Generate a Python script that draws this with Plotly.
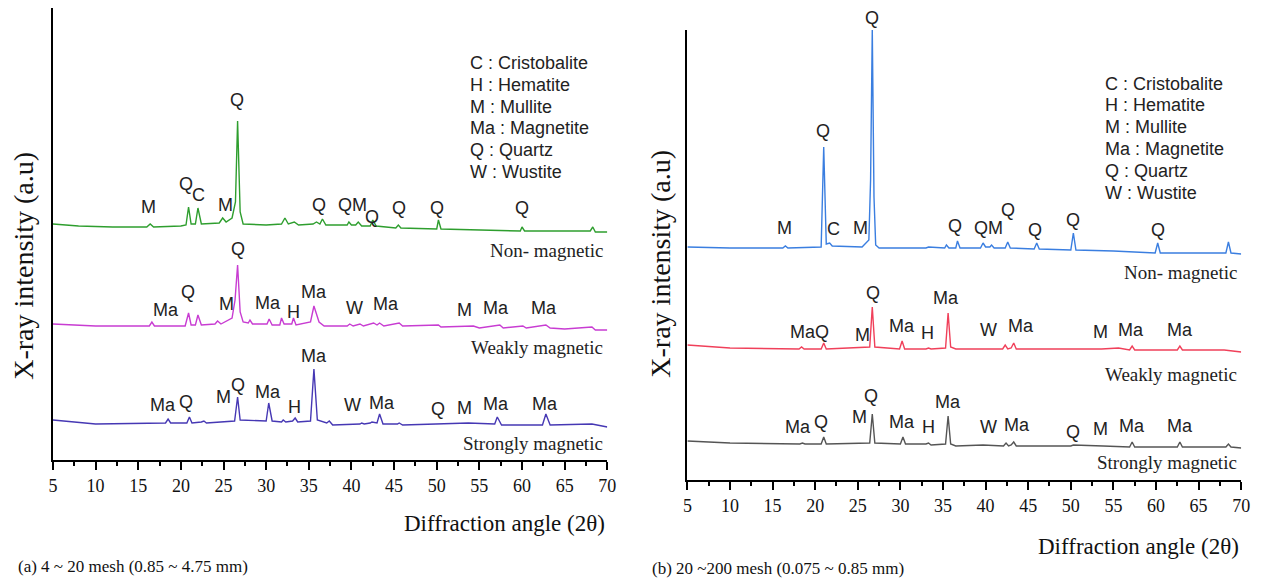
import plotly.graph_objects as go

W, H = 1269, 578

# ---------------- Panel (a) data: 2theta and intensity (a.u.) ----------------
a_non_x = [5, 8, 12, 16, 16.4, 16.8, 20, 20.6, 20.9, 21.2, 21.7, 22.0, 22.4, 24.5, 24.9, 25.3, 26.0, 26.4,
           26.65, 26.95, 27.3, 30, 31.8, 32.2, 32.6, 33.3, 33.8, 35.5, 35.9, 36.3, 36.6, 37.0, 39.5, 39.7,
           40.0, 40.5, 40.8, 41.2, 42.2, 42.5, 42.9, 45.2, 45.5, 45.8, 50.0, 50.2, 50.5, 55, 59.8, 60.0,
           60.3, 65, 68.0, 68.3, 68.6, 70]
a_non_y = [236, 234, 233, 233, 236, 233, 234, 235, 253, 236, 236, 252, 236, 237, 242, 238, 242, 258,
           339, 248, 236, 235, 236, 242, 236, 238, 235, 236, 238, 236, 241, 235, 235, 238,
           235, 235, 238, 234, 234, 240, 234, 232, 235, 232, 231, 240, 231, 230, 229, 233,
           229, 229, 229, 233, 228, 228]

a_weak_x = [5, 10, 16.3, 16.6, 16.9, 20.5, 20.9, 21.2, 21.7, 22.0, 22.4, 24.0, 24.3, 24.7, 26.0, 26.35,
            26.65, 26.95, 27.3, 27.9, 28.1, 28.4, 30.1, 30.35, 30.7, 31.6, 31.8, 32.1, 33.0, 33.2, 33.5,
            35.2, 35.6, 36.2, 36.8, 39.5, 39.8, 40.2, 41.0, 41.4, 42.6, 43.0, 43.3, 43.8, 45.6, 46.0,
            50.2, 50.5, 54.3, 55, 57.4, 57.8, 60.1, 60.5, 62.8, 63.3, 65, 68.2, 68.6, 70]
a_weak_y = [136, 134, 134, 138, 134, 134, 147, 135, 135, 145, 135, 136, 139, 136, 142, 160,
            195, 148, 138, 137, 140, 136, 136, 141, 135, 135, 142, 136, 136, 142, 135,
            138, 154, 138, 134, 134, 136, 134, 136, 134, 137, 135, 137, 134, 137, 134,
            135, 133, 134, 132, 135, 132, 134, 132, 135, 132, 131, 133, 130, 130]

a_strong_x = [5, 10, 18.2, 18.5, 18.8, 20.7, 21.0, 21.3, 22.4, 22.7, 23.0, 26.3, 26.65, 26.95, 30.0, 30.3,
              30.7, 31.8, 32.0, 32.3, 33.1, 33.4, 33.7, 35.2, 35.6, 36.0, 37.1, 37.4, 37.8, 41.0, 41.2,
              41.5, 42.2, 42.4, 43.0, 43.3, 43.7, 45.4, 45.6, 46, 49.9, 53.7, 56.8, 57.1, 57.6, 62.4,
              62.8, 63.3, 68.2, 70]
a_strong_y = [40, 36, 37, 41, 37, 37, 43, 37, 38, 39, 37, 39, 63, 40, 39, 57,
              39, 38, 40, 38, 39, 42, 38, 39, 91, 40, 37, 39, 35, 36, 37,
              36, 37, 38, 37, 46, 36, 36, 37, 35, 36, 37, 36, 43, 35, 35,
              46, 35, 36, 33]

# ---------------- Panel (b) data ----------------
b_non_x = [5, 10, 16.2, 16.5, 16.8, 20.7, 21.0, 21.3, 21.7, 22.0, 25.5, 26.3, 26.5, 26.7, 26.9, 27.1, 27.5,
           33.0, 33.3, 35.2, 35.4, 35.7, 36.5, 36.7, 37.0, 39.4, 39.7, 40.0, 40.5, 40.7, 41.0, 42.3,
           42.6, 42.9, 45.7, 46.0, 46.3, 50.0, 50.3, 50.6, 55, 59.9, 60.2, 60.5, 65, 68.2, 68.5, 68.8, 70]
b_non_y = [233, 232, 232, 234, 232, 233, 333, 236, 237, 234, 233, 240, 300, 451, 283, 235, 232,
           232, 233, 232, 235, 232, 232, 239, 232, 232, 237, 233, 233, 235, 232, 232,
           238, 232, 231, 237, 231, 230, 247, 230, 229, 227, 237, 227, 227, 227, 238, 227, 226]

b_weak_x = [5, 10, 18.1, 18.4, 18.7, 20.7, 21.0, 21.3, 26.4, 26.7, 27.0, 29.9, 30.2, 30.5, 33.0, 33.3, 33.6,
            35.3, 35.6, 35.9, 36.5, 42.0, 42.3, 42.6, 43.0, 43.3, 43.6, 53.6, 55.6, 56.9, 57.2, 57.5,
            62.5, 62.8, 63.1, 68.0, 70]
b_weak_y = [135, 132, 131, 133, 131, 131, 137, 131, 133, 173, 133, 131, 139, 131, 131, 132, 131,
            132, 167, 133, 131, 131, 135, 131, 132, 137, 131, 131, 132, 130, 134, 130,
            130, 134, 130, 130, 128]

b_strong_x = [5, 10, 18.2, 18.5, 18.8, 20.7, 21.0, 21.3, 26.4, 26.7, 27.0, 30.0, 30.3, 30.6, 33.0, 33.3,
              33.6, 35.3, 35.6, 35.9, 36.5, 39.7, 42.1, 42.4, 42.7, 43.0, 43.3, 43.6, 50.0, 50.3, 53.8,
              56.9, 57.2, 57.5, 62.5, 62.8, 63.1, 68.2, 68.5, 68.8, 70]
b_strong_y = [39, 37, 36, 37, 36, 36, 43, 36, 37, 66, 37, 36, 43, 36, 36, 37,
              35, 36, 64, 36, 34, 35, 34, 37, 34, 35, 38, 34, 34, 35, 34,
              33, 38, 33, 33, 38, 33, 33, 36, 33, 32]

# ---------------- Peak labels ----------------
a_non_lab = ["M", "Q", "C", "M", "Q", "Q", "QM", "Q", "Q", "Q", "Q"]
a_non_lx = [16.2, 20.6, 22.1, 25.2, 26.6, 36.2, 40.1, 42.4, 45.6, 50.0, 60.0]
a_non_ly = [253, 276, 265, 255, 360, 255, 255, 243, 252, 252, 252]

a_weak_lab = ["Ma", "Q", "M", "Q", "Ma", "H", "Ma", "W", "Ma", "M", "Ma", "Ma"]
a_weak_lx = [18.3, 20.8, 25.3, 26.7, 30.2, 33.2, 35.6, 40.3, 44.0, 53.2, 56.9, 62.6]
a_weak_ly = [150, 168, 156, 211, 157, 148, 168, 152, 156, 150, 152, 152]

a_strong_lab = ["Ma", "Q", "M", "Q", "Ma", "H", "Ma", "W", "Ma", "Q", "M", "Ma", "Ma"]
a_strong_lx = [17.9, 20.6, 25.0, 26.7, 30.2, 33.3, 35.6, 40.1, 43.6, 50.1, 53.3, 57.0, 62.7]
a_strong_ly = [55, 58, 63, 75, 68, 53, 104, 55, 57, 51, 52, 56, 56]

b_non_lab = ["M", "Q", "C", "M", "Q", "Q", "QM", "Q", "Q", "Q", "Q"]
b_non_lx = [16.4, 20.9, 22.1, 25.3, 26.7, 36.4, 40.3, 42.6, 45.8, 50.2, 60.2]
b_non_ly = [252, 349, 251, 252, 462, 254, 252, 270, 250, 260, 250]

b_weak_lab = ["MaQ", "M", "Q", "Ma", "H", "Ma", "W", "Ma", "M", "Ma", "Ma"]
b_weak_lx = [19.3, 25.5, 26.8, 30.2, 33.2, 35.4, 40.3, 44.1, 53.5, 57.1, 62.8]
b_weak_ly = [148, 145, 187, 154, 147, 182, 150, 154, 148, 150, 150]

b_strong_lab = ["Ma", "Q", "M", "Q", "Ma", "H", "Ma", "W", "Ma", "Q", "M", "Ma", "Ma"]
b_strong_lx = [18.0, 20.7, 25.2, 26.5, 30.2, 33.3, 35.6, 40.3, 43.7, 50.3, 53.5, 57.2, 62.8]
b_strong_ly = [53, 58, 63, 84, 58, 53, 78, 53, 55, 48, 51, 54, 54]

sample_names = ["Non- magnetic", "Weakly magnetic", "Strongly magnetic"]
a_name_y = [210, 113, 17]
b_name_y = [208, 106, 18]

legend_lines = ["C : Cristobalite", "H : Hematite", "M : Mullite", "Ma : Magnetite", "Q : Quartz", "W : Wustite"]

ticks = [5, 10, 15, 20, 25, 30, 35, 40, 45, 50, 55, 60, 65, 70]

# colours
col_a = ["#2e9e2e", "#c83cd2", "#4638b4"]
col_b = ["#3a7ee0", "#f0405a", "#555555"]

SERIF = "Liberation Serif, Times New Roman, serif"
SANS = "Liberation Sans, Arial, sans-serif"

# panel geometry (pixels)
A_LEFT, A_RIGHT, A_TOP, A_BOT = 48.5, 609, 8, 460
B_LEFT, B_RIGHT, B_TOP, B_BOT = 690, 1250, 30, 480


def px2x(p):
    return p / W


def py2y(p):
    return 1 - p / H


fig = go.Figure()

a_series = [(a_non_x, a_non_y), (a_weak_x, a_weak_y), (a_strong_x, a_strong_y)]
b_series = [(b_non_x, b_non_y), (b_weak_x, b_weak_y), (b_strong_x, b_strong_y)]

for (xs, ys), c in zip(a_series, col_a):
    fig.add_trace(go.Scatter(x=xs, y=ys, mode="lines", line=dict(color=c, width=1.4),
                             xaxis="x", yaxis="y", showlegend=False, hoverinfo="skip"))
for (xs, ys), c in zip(b_series, col_b):
    fig.add_trace(go.Scatter(x=xs, y=ys, mode="lines", line=dict(color=c, width=1.4),
                             xaxis="x2", yaxis="y2", showlegend=False, hoverinfo="skip"))

ann = []
A_YMAX = A_BOT - A_TOP
B_YMAX = B_BOT - B_TOP


def add_labels(labs, lxs, lys, xr, top, bot, ymax):
    # y given in the panel's intensity units; placed via paper coords so labels above the axis top still show
    for t, lx, ly in zip(labs, lxs, lys):
        pix = bot - (bot - top) * ly / ymax
        ann.append(dict(text=t, x=lx, y=py2y(pix), xref=xr, yref="paper", showarrow=False,
                        xanchor="center", yanchor="middle",
                        font=dict(family=SANS, size=18, color="#222222")))


add_labels(a_non_lab, a_non_lx, a_non_ly, "x", A_TOP, A_BOT, A_YMAX)
add_labels(a_weak_lab, a_weak_lx, a_weak_ly, "x", A_TOP, A_BOT, A_YMAX)
add_labels(a_strong_lab, a_strong_lx, a_strong_ly, "x", A_TOP, A_BOT, A_YMAX)
add_labels(b_non_lab, b_non_lx, b_non_ly, "x2", B_TOP, B_BOT, B_YMAX)
add_labels(b_weak_lab, b_weak_lx, b_weak_ly, "x2", B_TOP, B_BOT, B_YMAX)
add_labels(b_strong_lab, b_strong_lx, b_strong_ly, "x2", B_TOP, B_BOT, B_YMAX)

for n, y in zip(sample_names, a_name_y):
    ann.append(dict(text=n, x=px2x(607), y=y, xref="paper", yref="y", showarrow=False,
                    xanchor="right", yanchor="middle", font=dict(family=SERIF, size=19, color="#222222")))
for n, y in zip(sample_names, b_name_y):
    ann.append(dict(text=n, x=px2x(1248), y=y, xref="paper", yref="y2", showarrow=False,
                    xanchor="right", yanchor="middle", font=dict(family=SERIF, size=19, color="#222222")))

for i, t in enumerate(legend_lines):
    ann.append(dict(text=t, x=px2x(468), y=py2y(63 + 21.8 * i), xref="paper", yref="paper",
                    showarrow=False, xanchor="left", yanchor="middle",
                    font=dict(family=SANS, size=18, color="#222222")))
    ann.append(dict(text=t, x=px2x(1110), y=py2y(83.5 + 21.9 * i), xref="paper", yref="paper",
                    showarrow=False, xanchor="left", yanchor="middle",
                    font=dict(family=SANS, size=18, color="#222222")))

# axis titles
ann.append(dict(text="X-ray intensity (a.u)", x=px2x(19), y=py2y(266), xref="paper", yref="paper",
                showarrow=False, textangle=-90, xanchor="center", yanchor="middle",
                font=dict(family=SERIF, size=28, color="#111111")))
ann.append(dict(text="X-ray intensity (a.u)", x=px2x(662), y=py2y(264), xref="paper", yref="paper",
                showarrow=False, textangle=-90, xanchor="center", yanchor="middle",
                font=dict(family=SERIF, size=28, color="#111111")))
ann.append(dict(text="Diffraction angle (2θ)", x=px2x(609), y=py2y(523), xref="paper", yref="paper",
                showarrow=False, xanchor="right", yanchor="middle",
                font=dict(family=SERIF, size=23, color="#111111")))
ann.append(dict(text="Diffraction angle (2θ)", x=px2x(1250), y=py2y(546), xref="paper", yref="paper",
                showarrow=False, xanchor="right", yanchor="middle",
                font=dict(family=SERIF, size=23, color="#111111")))
ann.append(dict(text="(a) 4 ~ 20 mesh (0.85 ~ 4.75 mm)", x=px2x(11), y=py2y(566), xref="paper", yref="paper",
                showarrow=False, xanchor="left", yanchor="middle",
                font=dict(family=SERIF, size=17, color="#111111")))
ann.append(dict(text="(b) 20 ~200 mesh (0.075 ~ 0.85 mm)", x=px2x(652), y=py2y(568), xref="paper", yref="paper",
                showarrow=False, xanchor="left", yanchor="middle",
                font=dict(family=SERIF, size=17, color="#111111")))

xcommon = dict(range=[5, 70], tickvals=ticks, ticktext=[str(t) for t in ticks], ticks="outside",
               ticklen=8, tickwidth=2, tickcolor="black", showline=True, linecolor="black", linewidth=2,
               showgrid=False, zeroline=False, fixedrange=True,
               tickfont=dict(family=SERIF, size=18, color="#111111"),
               minor=dict(ticks="outside", ticklen=4, tickwidth=2, tickcolor="black", dtick=2.5, tick0=5,
                          showgrid=False))
ycommon = dict(showline=True, linecolor="black", linewidth=2, showticklabels=False, ticks="",
               showgrid=False, zeroline=False, fixedrange=True)

fig.update_layout(
    width=W, height=H, margin=dict(l=0, r=0, t=0, b=0),
    paper_bgcolor="white", plot_bgcolor="white",
    xaxis=dict(domain=[px2x(A_LEFT), px2x(A_RIGHT)], anchor="y", **xcommon),
    yaxis=dict(domain=[py2y(A_BOT), py2y(A_TOP)], range=[0, A_YMAX], anchor="x", **ycommon),
    xaxis2=dict(domain=[px2x(B_LEFT), px2x(B_RIGHT)], anchor="y2", **xcommon),
    yaxis2=dict(domain=[py2y(B_BOT), py2y(B_TOP)], range=[0, B_YMAX], anchor="x2", **ycommon),
    annotations=ann,
    showlegend=False,
)

fig.write_html("out.html")
